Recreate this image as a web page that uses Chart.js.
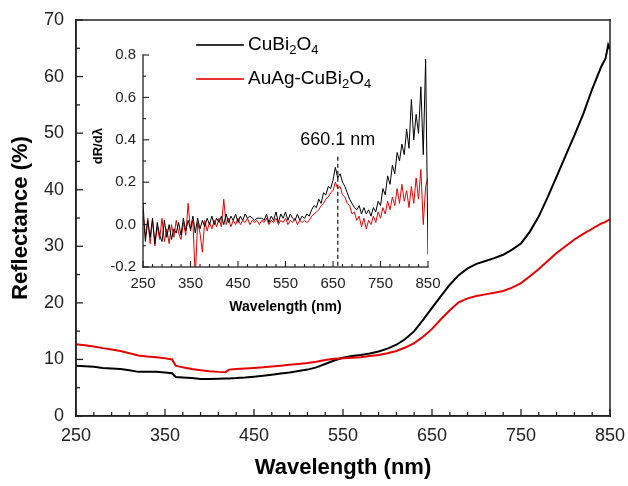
<!DOCTYPE html>
<html><head><meta charset="utf-8">
<script src="https://cdn.jsdelivr.net/npm/chart.js@4.4.1/dist/chart.umd.min.js"></script>
<style>
html,body{margin:0;padding:0;background:#fff;}
#wrap{position:relative;width:628px;height:486px;background:#fff;}
#main{position:absolute;left:0;top:0;width:628px;height:486px;}
#inset{position:absolute;left:85px;top:35px;width:355px;height:285px;}
#frame{position:absolute;left:0;top:0;width:628px;height:486px;pointer-events:none;}
</style></head><body>
<div id="wrap"><canvas id="main" width="628" height="486"></canvas><canvas id="inset" width="355" height="285"></canvas><canvas id="frame" width="628" height="486"></canvas></div>
<script>
// ---- main chart data ----
const mainWl = [250,260,270,280,290,300,310,320,330,340,350,358,362,370,380,390,400,410,418,422,
  430,440,450,460,470,480,490,500,510,520,530,540,550,560,570,580,590,600,610,620,630,640,650,660,670,680,690,700,
  710,720,730,740,750,760,770,780,790,800,810,820,830,840,845,848,850];
const reflCuBi = [8.9,8.8,8.7,8.5,8.4,8.3,8.1,7.8,7.8,7.8,7.7,7.55,6.9,6.8,6.7,6.55,6.55,6.6,6.65,6.65,
  6.7,6.8,6.95,7.1,7.3,7.5,7.7,7.95,8.2,8.6,9.2,9.8,10.3,10.6,10.8,11.05,11.4,11.9,12.6,13.6,15.0,17.0,19.1,21.2,23.2,24.9,26.1,26.9,
  27.4,27.9,28.5,29.4,30.5,32.6,35.3,38.7,42.3,46.0,49.6,53.4,57.8,61.7,63.2,65.6,64.8];
const reflAuAg = [12.7,12.5,12.3,12.0,11.75,11.5,11.1,10.7,10.5,10.4,10.2,10.0,8.9,8.6,8.3,8.1,7.9,7.8,7.75,8.2,
  8.3,8.4,8.5,8.6,8.75,8.9,9.05,9.2,9.35,9.6,9.9,10.1,10.2,10.3,10.4,10.6,10.8,11.1,11.5,12.1,12.9,14.0,15.4,17.1,18.7,20.1,20.8,21.2,
  21.5,21.8,22.1,22.7,23.5,24.7,26.0,27.4,28.8,30.0,31.2,32.2,33.1,34.0,34.3,34.6,34.8];
const mainXTicks = [250,350,450,550,650,750,850];
const mainYTicks = [0,10,20,30,40,50,60,70];

// ---- inset data (derivative dR/dλ), 250..850 nm every 5 nm ----
const insetStart = 250, insetStep = 5;
const dCuBi = [
  0.10,-0.08,0.02,-0.06,0.03,-0.09,0.01,-0.05,-0.08,0.02,
  -0.06,0.00,-0.07,-0.02,-0.04,0.01,-0.05,0.03,-0.03,0.02,
  -0.02,0.04,-0.04,0.03,-0.02,0.02,-0.01,0.03,0.00,0.04,
  0.00,0.03,0.01,0.04,0.00,0.05,0.01,0.04,0.02,0.05,
  0.01,0.04,0.02,0.05,0.03,0.04,0.03,0.02,0.03,0.03,
  0.03,0.02,0.05,0.01,0.04,0.02,0.06,0.01,0.05,0.03,
  0.06,0.02,0.05,0.03,0.02,0.05,0.02,0.04,0.03,0.05,
  0.04,0.07,0.09,0.08,0.12,0.10,0.15,0.14,0.18,0.17,
  0.21,0.27,0.22,0.24,0.20,0.18,0.15,0.12,0.10,0.08,
  0.07,0.09,0.05,0.08,0.05,0.07,0.04,0.08,0.06,0.11,
  0.09,0.17,0.14,0.23,0.19,0.28,0.24,0.34,0.30,0.38,
  0.33,0.45,0.36,0.59,0.40,0.52,0.43,0.65,0.33,0.78,
  -0.14];
const dAuAg = [
  0.05,-0.06,0.03,-0.09,0.02,-0.10,-0.01,-0.07,0.03,-0.08,
  -0.02,-0.09,0.00,-0.06,0.02,-0.04,-0.07,0.01,-0.05,0.10,
  -0.03,0.02,-0.25,0.01,-0.04,-0.13,0.02,-0.03,0.01,-0.02,
  0.02,-0.01,0.03,-0.01,0.12,0.00,0.03,-0.01,0.02,0.00,
  0.03,0.00,0.02,0.01,0.03,0.00,0.02,0.01,0.02,0.00,
  0.02,0.01,0.03,0.00,0.02,0.01,0.03,0.00,0.02,0.01,
  0.03,0.00,0.02,0.01,0.03,0.00,0.02,0.01,0.02,0.01,
  0.02,0.04,0.05,0.06,0.07,0.09,0.10,0.12,0.13,0.15,
  0.16,0.20,0.17,0.18,0.14,0.13,0.10,0.09,0.05,0.06,
  0.02,0.04,-0.01,0.03,-0.02,0.02,0.00,0.04,0.01,0.06,
  0.03,0.08,0.05,0.11,0.07,0.13,0.09,0.17,0.10,0.19,
  0.11,0.16,0.08,0.18,0.10,0.22,0.12,0.26,0.00,0.18,
  0.22];
const insetXTicks = [250,350,450,550,650,750,850];
const insetYTicks = [-0.2,0.0,0.2,0.4,0.6,0.8];
const peakWl = 660.1;

const seriesNames = [[['CuBi',0],['2',1],['O',0],['4',1]], [['AuAg-CuBi',0],['2',1],['O',0],['4',1]]];
const colBlack = '#000000', colRed = '#e60000';
const FONT = '"Liberation Sans", Arial, sans-serif';

function pts(xs, ys){ return ys.map((v,i)=>({x:xs[i], y:v})); }
const insetWl = dCuBi.map((_,i)=>insetStart + i*insetStep);

function fixTicks(arr){ return function(scale){ scale.ticks = arr.map(v=>({value:v})); }; }
function fitX(h){ return function(s){ s.height = h; s.paddingLeft = 0; s.paddingRight = 0; }; }
function fitY(w){ return function(s){ s.width = w; s.paddingTop = 0; s.paddingBottom = 0; }; }

function box(chart){
  const x = chart.scales.x, y = chart.scales.y;
  return {left: x.getPixelForValue(x.min), right: x.getPixelForValue(x.max),
          top: y.getPixelForValue(y.max), bottom: y.getPixelForValue(y.min)};
}
function hLine(ctx, x0, x1, yy, w){ ctx.fillRect(x0 - w/2, yy - w/2, (x1 - x0) + w, w); }
function vLine(ctx, xx, y0, y1, w){ ctx.fillRect(xx - w/2, y0 - w/2, w, (y1 - y0) + w); }

// ticks drawn on ctx (may be another canvas), offset (ox, oy) from chart canvas
function drawInwardTicks(chart, ctx, ox, oy, opt){
  const a = box(chart), x = chart.scales.x, y = chart.scales.y;
  ctx.save();
  ctx.translate(ox, oy);
  ctx.fillStyle = opt.color;
  const nx = Math.round((x.max - x.min)/opt.xMinor), kx = Math.round(opt.xMajor/opt.xMinor);
  for (let k = 0; k <= nx; k++){
    const px = x.getPixelForValue(x.min + k*opt.xMinor);
    const len = (k % kx === 0) ? opt.maj : opt.mnr;
    ctx.fillRect(px - opt.lw/2, a.bottom - len, opt.lw, len);
  }
  const ny = Math.round((y.max - y.min)/opt.yMinor), ky = Math.round(opt.yMajor/opt.yMinor);
  for (let k = 0; k <= ny; k++){
    const py = y.getPixelForValue(y.min + k*opt.yMinor);
    const len = (k % ky === 0) ? opt.maj : opt.mnr;
    ctx.fillRect(a.left, py - opt.lw/2, len, opt.lw);
  }
  ctx.restore();
}

function drawRich(ctx, parts, x, y, size){
  let cx = x;
  parts.forEach(([t, sub])=>{
    const fs = sub ? Math.round(size*0.68) : size;
    ctx.font = fs + 'px ' + FONT;
    ctx.fillText(t, cx, sub ? y + size*0.3 : y);
    cx += ctx.measureText(t).width;
  });
}

const frameCtx = document.getElementById('frame').getContext('2d');

const mainPlugin = {
  id:'mainDeco',
  afterDraw(chart){
    const ctx = frameCtx, a = box(chart);
    ctx.clearRect(0, 0, 628, 486);
    drawInwardTicks(chart, ctx, 0, 0, {color:'#222', lw:1.3, xMinor:20, xMajor:100, yMinor:5, yMajor:10, maj:7, mnr:4});
    ctx.save();
    ctx.fillStyle = '#222';
    hLine(ctx, a.left, a.right, a.top, 1.5);
    hLine(ctx, a.left, a.right, a.bottom, 1.5);
    vLine(ctx, a.left, a.top, a.bottom, 1.5);
    vLine(ctx, a.right, a.top, a.bottom, 1.5);
    ctx.restore();
    const c = chart.ctx;
    c.save();
    const lx0 = 197, lx1 = 243, tx = 248;
    const rows = [45, 79];
    [colBlack, colRed].forEach((col,i)=>{
      c.fillStyle = col;
      hLine(c, lx0, lx1, rows[i], 1.6);
      c.fillStyle = '#000'; c.textBaseline = 'middle'; c.textAlign = 'left';
      drawRich(c, seriesNames[i], tx, rows[i], 19);
    });
    c.restore();
  }
};

const insetPlugin = {
  id:'insetDeco',
  afterDraw(chart){
    const ctx = chart.ctx, a = box(chart), x = chart.scales.x, y = chart.scales.y;
    ctx.save();
    ctx.fillStyle = '#222';
    vLine(ctx, a.left, a.top, a.bottom, 1.3);
    hLine(ctx, a.left, a.right, a.bottom, 1.3);
    ctx.restore();
    drawInwardTicks(chart, ctx, 0, 0, {color:'#222', lw:1.1, xMinor:20, xMajor:100, yMinor:0.1, yMajor:0.2, maj:6, mnr:3});
    ctx.save();
    const px = x.getPixelForValue(peakWl);
    ctx.fillStyle = '#222';
    const yTop = y.getPixelForValue(0.32);
    for (let yy = yTop; yy < a.bottom; yy += 7){
      ctx.fillRect(px - 0.65, yy, 1.3, Math.min(4, a.bottom - yy));
    }
    ctx.fillStyle = '#000'; ctx.font = '18px ' + FONT; ctx.textAlign = 'center'; ctx.textBaseline = 'middle';
    ctx.fillText(peakWl.toFixed(1) + ' nm', px, y.getPixelForValue(0.40));
    ctx.translate(a.left - 45, y.getPixelForValue(0.37));
    ctx.rotate(-Math.PI/2);
    ctx.font = 'bold 13px ' + FONT;
    ctx.fillText('dR/dλ', 0, 0);
    ctx.restore();
  }
};

new Chart(document.getElementById('main'), {
  type:'line',
  data:{datasets:[
    {data:pts(mainWl, reflAuAg), borderColor:colRed, borderWidth:2, pointRadius:0, tension:0},
    {data:pts(mainWl, reflCuBi), borderColor:colBlack, borderWidth:2, pointRadius:0, tension:0}
  ]},
  options:{
    responsive:false, devicePixelRatio:1, animation:false, events:[],
    layout:{padding:{left:0, top:20, right:18, bottom:0}},
    plugins:{legend:{display:false}, tooltip:{enabled:false}},
    scales:{
      x:{type:'linear', min:250, max:850, afterBuildTicks:fixTicks(mainXTicks), afterFit:fitX(70),
        grid:{display:false, drawTicks:false}, border:{display:true, color:'#222', width:1.5},
        ticks:{padding:9, color:'#222', font:{family:FONT, size:18}, maxRotation:0, autoSkip:false},
        title:{display:true, text:'Wavelength (nm)', color:'#000', font:{family:FONT, size:22, weight:'bold'}, padding:{bottom:5}}},
      y:{type:'linear', min:0, max:70, afterBuildTicks:fixTicks(mainYTicks), afterFit:fitY(76),
        grid:{display:false, drawTicks:false}, border:{display:true, color:'#222', width:1.5},
        ticks:{padding:12, color:'#222', font:{family:FONT, size:18}},
        title:{display:true, text:'Reflectance (%)', color:'#000', font:{family:FONT, size:22, weight:'bold'}, padding:{top:8}}}
    }
  },
  plugins:[mainPlugin]
});

new Chart(document.getElementById('inset'), {
  type:'line',
  data:{datasets:[
    {data:pts(insetWl, dCuBi), borderColor:colBlack, borderWidth:1, pointRadius:0, tension:0},
    {data:pts(insetWl, dAuAg), borderColor:colRed, borderWidth:1, pointRadius:0, tension:0}
  ]},
  options:{
    responsive:false, devicePixelRatio:1, animation:false, events:[],
    layout:{padding:{left:0, top:20, right:12, bottom:0}},
    plugins:{legend:{display:false}, tooltip:{enabled:false}},
    scales:{
      x:{type:'linear', min:250, max:850, afterBuildTicks:fixTicks(insetXTicks), afterFit:fitX(53),
        grid:{display:false, drawTicks:false}, border:{display:false},
        ticks:{padding:8, color:'#222', font:{family:FONT, size:15}, maxRotation:0, autoSkip:false},
        title:{display:true, text:'Wavelength (nm)', color:'#000', font:{family:FONT, size:14, weight:'bold'}, padding:{bottom:4}}},
      y:{type:'linear', min:-0.2, max:0.8, afterBuildTicks:fixTicks(insetYTicks), afterFit:fitY(58),
        grid:{display:false, drawTicks:false}, border:{display:false},
        ticks:{padding:7, color:'#222', font:{family:FONT, size:15}, callback:(v)=>Number(v).toFixed(1)},
        title:{display:false}}
    }
  },
  plugins:[insetPlugin]
});
</script>
</body></html>
